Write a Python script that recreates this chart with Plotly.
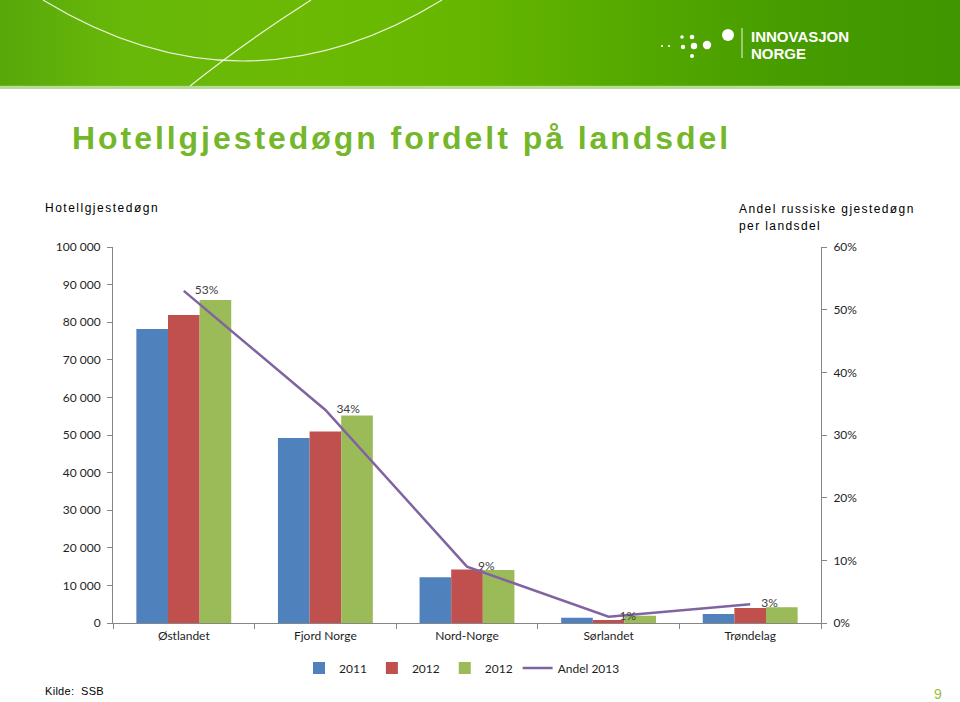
import plotly.graph_objects as go

# ---------------- data ----------------
categories = ["Østlandet", "Fjord Norge", "Nord-Norge", "Sørlandet", "Trøndelag"]
series_names = ["2011", "2012", "2012"]
v2011 = [78200, 49200, 12200, 1400, 2400]
v2012 = [81900, 50900, 14200, 800, 4000]
v2012b = [85900, 55200, 14100, 1900, 4200]
andel_name = "Andel 2013"
andel_2013 = [0.53, 0.34, 0.09, 0.01, 0.03]
andel_labels = ["53%", "34%", "9%", "1%", "3%"]

title_text = "Hotellgjestedøgn fordelt på landsdel"
left_axis_title = "Hotellgjestedøgn"
right_axis_title = ["Andel russiske gjestedøgn", "per landsdel"]
source_text = "Kilde:  SSB"
page_no = "9"

# ---------------- geometry helpers (decoration only) ----------------
W, H = 960, 702
PL, PR, PT, PB = 113, 821, 247, 623  # plot area in pixels


def px(x):
    return (x - PL) / (PR - PL)


def py(y):
    return (PB - y) / (PB - PT)


bar_colors = ["#4F81BD", "#C0504D", "#9BBB59"]
line_color = "#8064A2"
tick_font = dict(family="Lato, Carlito, sans-serif", size=12, color="#1e1e1e")
axis_col = "#868686"

fig = go.Figure()
for name, vals, col in zip(series_names, [v2011, v2012, v2012b], bar_colors):
    fig.add_trace(go.Bar(x=categories, y=vals, name=name, marker_color=col,
                         marker_line_width=0))

fig.add_trace(go.Scatter(x=categories, y=andel_2013, name=andel_name, yaxis="y2",
                         mode="lines+markers+text", text=andel_labels,
                         textposition="middle right",
                         marker=dict(size=16, color="rgba(0,0,0,0)"),
                         textfont=dict(family="Lato, sans-serif", size=12, color="#404040"),
                         line=dict(color=line_color, width=2.5), cliponaxis=False))

shapes = []
# banner gradient
stops = [(0, (88, 168, 12)), (120, (104, 184, 10)), (300, (108, 186, 4)),
         (480, (102, 182, 0)), (620, (86, 170, 0)), (800, (70, 156, 0)), (960, (63, 150, 0))]


def col_at(x):
    for (x0, c0), (x1, c1) in zip(stops[:-1], stops[1:]):
        if x0 <= x <= x1:
            t = (x - x0) / (x1 - x0)
            return "rgb(%d,%d,%d)" % tuple(int(a + (b - a) * t) for a, b in zip(c0, c1))
    return "rgb(63,150,0)"


step = 8
for x in range(0, W, step):
    shapes.append(dict(type="rect", xref="paper", yref="paper",
                       x0=px(x), x1=px(x + step + 0.6), y0=py(86), y1=py(0),
                       fillcolor=col_at(x + step / 2), line_width=0, layer="below"))
shapes.append(dict(type="rect", xref="paper", yref="paper", x0=px(0), x1=px(W),
                   y0=py(89), y1=py(85), fillcolor="rgba(120,190,60,0.55)",
                   line_width=0, layer="below"))

# white arcs in banner
c1 = "M %f,%f Q %f,%f %f,%f" % (px(43), py(0), px(243), py(122), px(442), py(0))
c2 = "M %f,%f Q %f,%f %f,%f" % (px(311), py(0), px(245), py(42), px(190), py(86))
for d in (c1, c2):
    shapes.append(dict(type="path", xref="paper", yref="paper", path=d,
                       line=dict(color="rgba(255,255,255,0.85)", width=1.2)))

# logo dots
dots = [(662, 46, 1.1), (669, 46, 1.1), (682, 37, 1.8), (692, 37, 2.3),
        (683, 47, 2.2), (694, 46, 3.2), (707, 45, 4.2), (692, 56, 2.0), (728, 35, 6.0)]
for cx, cy, r in dots:
    shapes.append(dict(type="circle", xref="paper", yref="paper",
                       x0=px(cx - r), x1=px(cx + r), y0=py(cy + r), y1=py(cy - r),
                       fillcolor="white", line_width=0))
shapes.append(dict(type="line", xref="paper", yref="paper", x0=px(742), x1=px(742),
                   y0=py(58), y1=py(28), line=dict(color="rgba(255,255,255,0.9)", width=1)))

ann = []


def add_text(text, x, y, size, color="#000000", family="Liberation Sans, Arial, sans-serif",
             spacing=0.0, bold=False, xanchor="left"):
    t = text
    if spacing:
        t = '<span style="letter-spacing:%.2fpx">%s</span>' % (spacing, t)
    if bold:
        t = "<b>%s</b>" % t
    ann.append(dict(text=t, x=px(x), y=py(y), xref="paper", yref="paper",
                    xanchor=xanchor, yanchor="middle", showarrow=False,
                    font=dict(family=family, size=size, color=color)))


add_text("INNOVASJON", 749, 37, 15, "white", bold=True)
add_text("NORGE", 749, 53, 15, "white", bold=True)
add_text(title_text, 70, 138, 32, "#74B72B", spacing=2.95, bold=True)
add_text(left_axis_title, 43, 208, 12, "#000000", spacing=1.5)
add_text(right_axis_title[0], 737, 209, 12, "#000000", spacing=1.4)
add_text(right_axis_title[1], 737, 226, 12, "#000000", spacing=1.4)
add_text(source_text, 43, 691, 11, "#000000", spacing=0.3)
add_text(page_no, 932, 694, 14, "#9BBB3B")

fig.update_layout(
    width=W, height=H,
    margin=dict(l=PL, r=W - PR, t=PT, b=H - PB, pad=0),
    paper_bgcolor="white", plot_bgcolor="white",
    barmode="group", bargap=0.33, bargroupgap=0,
    separators=", ",
    showlegend=True,
    legend=dict(orientation="h", x=px(462), xanchor="center", y=py(668), yanchor="middle",
                font=dict(family="Lato, sans-serif", size=12, color="#1e1e1e"),
                itemwidth=30, traceorder="normal"),
    xaxis=dict(showline=True, linecolor=axis_col, linewidth=1, ticks="outside",
               tickson="boundaries", ticklen=5, tickcolor=axis_col, tickfont=tick_font,
               showgrid=False, zeroline=False, ticklabelstandoff=2),
    yaxis=dict(range=[0, 100000], dtick=10000, tickformat=",d", showline=True,
               linecolor=axis_col, ticks="outside", ticklen=5, tickcolor=axis_col,
               tickfont=tick_font, showgrid=False, zeroline=False, ticklabelstandoff=4),
    yaxis2=dict(range=[0, 0.6], dtick=0.1, tickformat=".0%", overlaying="y", side="right",
                showline=True, linecolor=axis_col, ticks="outside", ticklen=5,
                tickcolor=axis_col, tickfont=tick_font, showgrid=False, zeroline=False,
                ticklabelstandoff=4),
    shapes=shapes, annotations=ann,
)

fig.write_html("out.html", config={"displayModeBar": False},
               post_script="document.body.style.margin='0px';document.body.style.overflow='hidden';")
